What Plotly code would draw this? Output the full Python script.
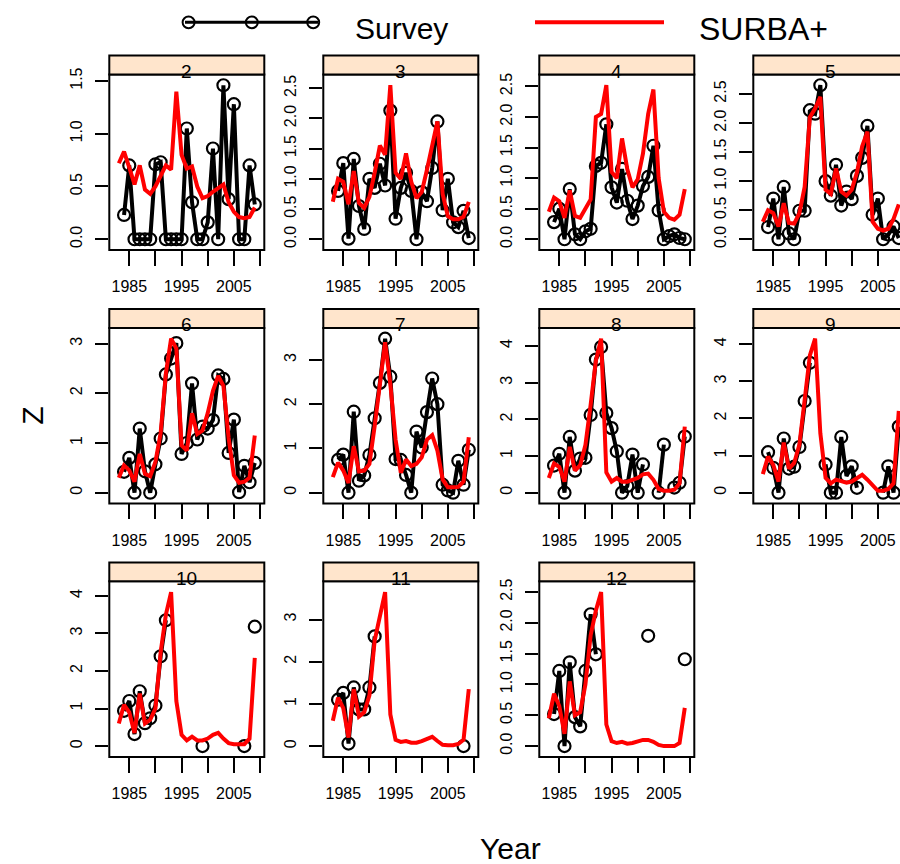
import plotly.graph_objects as go

years = list(range(1983, 2010))
ages = ["2", "3", "4", "5", "6", "7", "8", "9", "10", "11", "12"]
N = None

survey_2 = [N, 0.23, 0.70, 0, 0, 0, 0, 0.71, 0.73, 0, 0, 0, 0, 1.05, 0.35, 0, 0, 0.16, 0.86, 0, 1.46, 0.38, 1.28, 0, 0, 0.70, 0.33]
surba_2 = [0.72, 0.83, 0.68, 0.52, 0.70, 0.47, 0.43, 0.50, 0.60, 0.70, 0.66, 1.40, 0.80, 0.67, 0.69, 0.50, 0.39, 0.41, 0.45, 0.49, 0.52, 0.35, 0.26, 0.21, 0.20, 0.21, 0.30]

survey_3 = [N, 0.80, 1.26, 0.01, 1.33, 0.55, 0.17, 1.00, 0.85, 1.25, 0.89, 2.13, 0.34, 0.85, 1.10, 0.80, 0.0, 0.78, 0.63, 1.18, 1.95, 0.48, 1.00, 0.28, 0.20, 0.47, 0.02]
surba_3 = [0.62, 1.0, 0.95, 0.58, 1.13, 0.6, 0.52, 0.7, 1.1, 1.55, 1.4, 2.55, 1.1, 1.0, 1.42, 0.95, 0.68, 0.78, 1.15, 1.55, 1.95, 0.75, 0.38, 0.33, 0.33, 0.37, 0.62]

survey_4 = [N, 0.28, 0.5, 0.0, 0.82, 0.08, 0.0, 0.13, 0.17, 1.2, 1.25, 1.88, 0.85, 0.6, 1.15, 0.63, 0.33, 0.55, 0.87, 1.02, 1.53, 0.47, 0.0, 0.05, 0.08, 0.02, 0.0]
surba_4 = [0.45, 0.68, 0.62, 0.35, 0.8, 0.38, 0.35, 0.5, 0.65, 2.0, 2.05, 2.52, 1.1, 1.0, 1.65, 1.15, 0.85, 0.98, 1.4, 2.05, 2.45, 1.0, 0.45, 0.35, 0.32, 0.4, 0.82]

survey_5 = [N, 0.21, 0.70, 0.0, 0.90, 0.1, 0.0, 0.49, 0.49, 2.22, 2.16, 2.65, 1.0, 0.75, 1.28, 0.58, 0.82, 0.69, 1.09, 1.4, 1.95, 0.42, 0.70, 0.0, 0.08, 0.22, 0.02]
surba_5 = [0.3, 0.5, 0.45, 0.22, 0.62, 0.28, 0.27, 0.45, 0.9, 2.1, 2.25, 2.45, 0.85, 0.78, 1.22, 0.82, 0.75, 0.85, 1.15, 1.6, 1.85, 0.3, 0.18, 0.15, 0.18, 0.35, 0.6]

survey_6 = [N, 0.42, 0.70, 0.0, 1.29, 0.43, 0.0, 0.57, 1.09, 2.38, 2.7, 3.01, 0.78, 1.0, 2.2, 1.07, 1.33, 1.29, 1.46, 2.36, 2.29, 0.8, 1.47, 0.01, 0.54, 0.21, 0.6]
surba_6 = [0.3, 0.55, 0.45, 0.22, 0.78, 0.38, 0.33, 0.62, 1.2, 2.4, 3.1, 2.9, 0.95, 0.85, 1.6, 1.18, 1.25, 1.6, 2.05, 2.35, 2.15, 1.1, 0.35, 0.2, 0.22, 0.3, 1.15]

survey_7 = [N, 0.74, 0.86, 0.0, 1.83, 0.27, 0.39, 0.85, 1.68, 2.48, 3.48, 2.62, 0.76, 0.74, 0.4, 0.0, 1.38, 1.02, 1.82, 2.58, 2.0, 0.18, 0.05, 0.0, 0.72, 0.18, 0.97]
surba_7 = [0.35, 0.68, 0.5, 0.22, 1.05, 0.48, 0.5, 0.65, 1.5, 2.5, 3.4, 2.45, 1.2, 0.45, 0.75, 0.6, 0.65, 0.8, 1.2, 1.3, 0.95, 0.3, 0.12, 0.12, 0.13, 0.25, 1.25]

survey_8 = [N, 0.74, 1.06, 0.0, 1.52, 0.6, 0.93, 0.95, 2.12, 3.63, 3.97, 2.17, 1.76, 1.13, 0.0, 0.18, 1.04, 0.0, 0.77, N, N, 0.0, 1.31, N, 0.14, 0.27, 1.53]
surba_8 = [0.4, 0.8, 0.7, 0.3, 1.25, 0.6, 0.75, 1.3, 2.4, 3.6, 4.2, 0.55, 0.3, 0.4, 0.3, 0.3, 0.35, 0.4, 0.5, 0.52, 0.35, 0.1, 0.05, 0.05, 0.08, 0.25, 1.8]

survey_9 = [N, 1.09, 0.67, 0.0, 1.46, 0.65, 0.7, 1.23, 2.47, 3.5, N, N, 0.76, 0.0, 0.0, 1.5, 0.45, 0.71, 0.13, N, N, N, N, 0.0, 0.71, 0.0, 1.78]
surba_9 = [0.5, 0.97, 0.75, 0.3, 1.35, 0.65, 0.8, 1.3, 2.5, 3.7, 4.15, 1.6, 0.4, 0.25, 0.35, 0.3, 0.27, 0.3, 0.4, 0.48, 0.35, 0.18, 0.05, 0.05, 0.1, 0.25, 2.2]

survey_10 = [N, 0.94, 1.2, 0.32, 1.46, 0.61, 0.74, 1.08, 2.39, 3.35, N, N, N, N, N, N, 0.0, N, N, N, N, N, N, N, 0.0, N, 3.18]
surba_10 = [0.6, 1.1, 0.9, 0.35, 1.4, 0.6, 0.7, 1.0, 2.5, 3.5, 4.1, 1.2, 0.3, 0.15, 0.25, 0.15, 0.15, 0.2, 0.3, 0.35, 0.2, 0.08, 0.05, 0.05, 0.05, 0.2, 2.35]

survey_11 = [N, 1.1, 1.26, 0.06, 1.39, 0.87, 0.87, 1.39, 2.6, N, N, N, N, N, N, N, N, N, N, N, N, N, N, N, N, 0.0, N]
surba_11 = [0.6, 1.15, 0.9, 0.2, 1.35, 0.7, 0.8, 1.2, 2.5, 3.1, 3.65, 0.75, 0.15, 0.1, 0.12, 0.08, 0.08, 0.12, 0.18, 0.22, 0.12, 0.03, 0.02, 0.02, 0.05, 0.15, 1.35]

survey_12 = [N, 0.52, 1.22, 0.0, 1.36, 0.47, 0.32, 1.22, 2.14, 1.49, N, N, N, N, N, N, N, N, N, 1.79, N, N, N, N, N, N, 1.41]
surba_12 = [0.45, 0.85, 0.65, 0.2, 1.05, 0.5, 0.55, 1.0, 1.8, 2.2, 2.5, 0.35, 0.08, 0.05, 0.07, 0.04, 0.05, 0.08, 0.1, 0.1, 0.07, 0.02, 0.0, 0.0, 0.0, 0.05, 0.62]

survey = [survey_2, survey_3, survey_4, survey_5, survey_6, survey_7, survey_8, survey_9, survey_10, survey_11, survey_12]
surba = [surba_2, surba_3, surba_4, surba_5, surba_6, surba_7, surba_8, surba_9, surba_10, surba_11, surba_12]
y_dtick = [0.5, 0.5, 0.5, 0.5, 1, 1, 1, 1, 1, 1, 0.5]
x_tickvals = [1985, 1990, 1995, 2000, 2005, 2010]
x_ticktext = ["1985", "", "1995", "", "2005", ""]

W, H = 900, 864
COL_X = [109.3, 323.3, 539.3, 753.3]
ROW_TOP = [49, 304.5, 560]
PW, STRIP, PH = 155, 19, 177
TICKFONT = dict(family="Liberation Sans, Arial", size=16, color="black")

fig = go.Figure()
shapes, annotations = [], []
span = years[-1] - years[0]
xr = [years[0] - 0.07 * span, years[-1] + 0.07 * span]

for i, age in enumerate(ages):
    r, c = divmod(i, 4)
    x0 = COL_X[c]
    x1 = x0 + PW
    st = ROW_TOP[r]
    pt = st + STRIP
    pb = pt + PH
    dx1 = min(x1, W)
    xrange = [xr[0], xr[0] + (xr[1] - xr[0]) * (dx1 - x0) / PW]
    vals = [v for v in survey[i] + surba[i] if v is not None]
    lo, hi = min(vals), max(vals)
    pad = 0.07 * (hi - lo)
    sfx = "" if i == 0 else str(i + 1)
    fig.update_layout({
        f"xaxis{sfx}": dict(domain=[x0 / W, dx1 / W], range=xrange, anchor=f"y{sfx}",
                            tickvals=x_tickvals, ticktext=x_ticktext, ticks="outside",
                            ticklen=15, tickwidth=2, tickcolor="black", showgrid=False,
                            zeroline=False, showline=False, tickfont=TICKFONT,
                            ticklabelstandoff=7),
        f"yaxis{sfx}": dict(domain=[1 - pb / H, 1 - pt / H], range=[lo - pad, hi + pad],
                            anchor=f"x{sfx}", tick0=0, dtick=y_dtick[i],
                            tickformat=".1f" if y_dtick[i] < 1 else "d",
                            ticks="outside", ticklen=13, tickwidth=2, tickcolor="black",
                            showgrid=False, zeroline=False, showline=False,
                            tickangle=-90, tickfont=TICKFONT, ticklabelstandoff=7),
    })
    fig.add_trace(go.Scatter(x=years, y=survey[i], xaxis=f"x{sfx}", yaxis=f"y{sfx}",
                             mode="lines+markers", connectgaps=False,
                             line=dict(color="black", width=4),
                             marker=dict(symbol="circle-open", size=12, color="black",
                                         line=dict(width=2.2)),
                             showlegend=False))
    fig.add_trace(go.Scatter(x=years, y=surba[i], xaxis=f"x{sfx}", yaxis=f"y{sfx}",
                             mode="lines", line=dict(color="#FF0000", width=4),
                             showlegend=False))
    shapes.append(dict(type="rect", xref="paper", yref="paper", x0=x0 / W, x1=x1 / W,
                       y0=1 - pb / H, y1=1 - pt / H, line=dict(color="black", width=2),
                       layer="above"))
    shapes.append(dict(type="rect", xref="paper", yref="paper", x0=x0 / W, x1=x1 / W,
                       y0=1 - pt / H, y1=1 - st / H, fillcolor="#FFE5CC",
                       line=dict(color="black", width=2), layer="above"))
    annotations.append(dict(text=age, xref="paper", yref="paper", x=(x0 + x1) / 2 / W,
                            y=1 - (st + 16) / H, xanchor="center", yanchor="middle",
                            showarrow=False,
                            font=dict(family="Liberation Sans, Arial", size=19, color="black")))

# legend (top)
LEG_Y = 15.5
shapes.append(dict(type="line", xref="paper", yref="paper", x0=185 / W, x1=318 / W,
                   y0=1 - LEG_Y / H, y1=1 - LEG_Y / H, line=dict(color="black", width=3)))
for cx in (188.6, 251.8, 313.2):
    shapes.append(dict(type="circle", xref="paper", yref="paper", x0=(cx - 6) / W,
                       x1=(cx + 6) / W, y0=1 - (LEG_Y + 6) / H, y1=1 - (LEG_Y - 6) / H,
                       line=dict(color="black", width=2), fillcolor="rgba(0,0,0,0)"))
shapes.append(dict(type="line", xref="paper", yref="paper", x0=535 / W, x1=664 / W,
                   y0=1 - LEG_Y / H, y1=1 - LEG_Y / H, line=dict(color="#FF0000", width=4)))
BIG = dict(family="Liberation Sans, Arial", size=30, color="black")
annotations.append(dict(text="Survey", xref="paper", yref="paper", x=353 / W, y=1 - 22 / H,
                        xanchor="left", yanchor="middle", showarrow=False, font=BIG))
annotations.append(dict(text="SURBA+", xref="paper", yref="paper", x=697 / W, y=1 - 22 / H,
                        xanchor="left", yanchor="middle", showarrow=False,
                        font=dict(family="Liberation Sans, Arial", size=32, color="black")))
annotations.append(dict(text="Z", xref="paper", yref="paper", x=33 / W, y=1 - 412 / H,
                        xanchor="center", yanchor="middle", textangle=-90, showarrow=False,
                        font=BIG))
annotations.append(dict(text="Year", xref="paper", yref="paper", x=510 / W, y=1 - 848 / H,
                        xanchor="center", yanchor="middle", showarrow=False, font=BIG))

fig.update_layout(width=W, height=H, margin=dict(l=0, r=0, t=0, b=0),
                  paper_bgcolor="white", plot_bgcolor="white", showlegend=False,
                  shapes=shapes, annotations=annotations)
fig.write_html("out.html")
